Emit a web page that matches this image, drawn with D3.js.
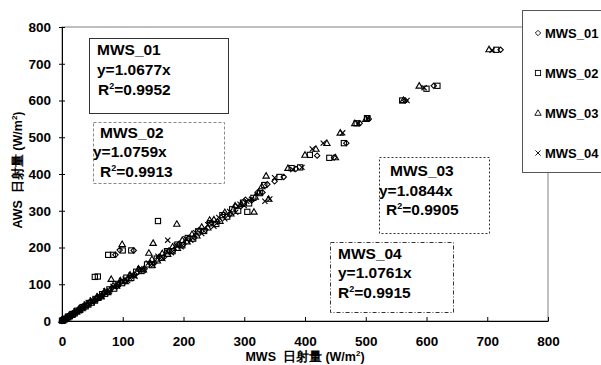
<!DOCTYPE html>
<html><head><meta charset="utf-8">
<script src="https://cdn.jsdelivr.net/npm/d3@7"></script>
<style>
body{margin:0;background:#fff;}
svg{display:block;font-family:"Liberation Sans",Arial,sans-serif;font-weight:bold;}
</style></head>
<body>
<svg id="chart" width="601" height="365"></svg>
<script>
const seriesNames = ["MWS_01","MWS_02","MWS_03","MWS_04"];
const xTicks = [0,100,200,300,400,500,600,700,800];
const yTicks = [0,100,200,300,400,500,600,700,800];
const fitLabels = [
  ["MWS_01","y=1.0677x","0.9952"],
  ["MWS_02","y=1.0759x","0.9913"],
  ["MWS_03","y=1.0844x","0.9905"],
  ["MWS_04","y=1.0761x","0.9915"]
];
const mws01 = [[0,0],[1,2],[3,2],[5,7],[8,8],[11,14],[14,13],[18,21],[22,21],[26,30],[31,31],[35,40],[41,42],[46,52],[52,53],[58,64],[63,64],[69,76],[76,79],[82,90],[88,180],[95,193],[118,192],[90,94],[97,106],[104,108],[112,123],[120,126],[127,140],[136,142],[145,158],[152,158],[160,175],[168,174],[176,192],[184,193],[193,210],[200,209],[208,225],[218,228],[226,248],[236,248],[246,268],[256,270],[266,290],[276,290],[286,312],[294,312],[302,330],[312,328],[322,350],[330,350],[338,372],[350,380],[365,392],[385,414],[420,450],[448,445],[468,484],[490,538],[505,550],[565,600],[612,640],[722,738]];
const mws02 = [[0,1],[2,1],[4,5],[7,6],[10,12],[13,13],[17,19],[21,21],[25,28],[30,30],[34,38],[39,40],[44,49],[49,50],[54,120],[59,121],[55,60],[60,63],[66,73],[71,74],[76,180],[84,180],[78,86],[86,88],[92,101],[100,192],[114,192],[99,103],[106,118],[114,117],[122,134],[131,136],[140,154],[148,152],[158,272],[156,170],[164,172],[173,190],[182,190],[190,208],[198,206],[207,226],[216,224],[224,244],[234,245],[244,266],[254,264],[264,288],[272,284],[280,304],[290,300],[298,322],[305,297],[308,320],[315,335],[326,348],[333,370],[358,392],[378,416],[392,418],[408,452],[440,444],[464,484],[485,538],[502,552],[560,600],[600,632],[618,640],[715,738]];
const mws03 = [[0,2],[3,4],[6,8],[9,9],[12,15],[16,16],[20,24],[24,25],[28,33],[33,34],[37,43],[42,44],[47,54],[53,55],[58,66],[64,66],[70,80],[75,78],[81,114],[84,96],[99,209],[90,96],[96,110],[104,108],[110,116],[112,126],[118,124],[126,142],[134,140],[143,185],[150,212],[148,168],[157,164],[165,184],[174,182],[189,264],[182,202],[190,198],[198,220],[206,216],[214,236],[222,232],[230,256],[243,275],[240,254],[250,276],[260,272],[268,296],[278,292],[285,314],[295,318],[316,297],[318,338],[324,350],[329,366],[336,395],[340,332],[372,416],[400,452],[418,468],[436,484],[450,445],[458,512],[482,538],[500,549],[562,601],[588,640],[703,739]];
const mws04 = [[1,2],[2,3],[4,6],[6,6],[9,11],[12,12],[15,18],[19,19],[23,27],[28,28],[32,37],[36,37],[40,46],[45,47],[50,57],[55,57],[61,69],[66,68],[72,82],[78,80],[84,94],[91,95],[98,110],[104,114],[108,110],[114,126],[120,122],[128,142],[134,138],[142,158],[150,152],[158,176],[166,170],[174,220],[172,190],[180,186],[188,206],[196,202],[204,224],[212,220],[220,240],[230,238],[240,262],[250,258],[258,282],[268,278],[276,298],[286,296],[293,318],[300,314],[304,326],[312,331],[334,326],[342,332],[350,390],[380,412],[395,418],[412,468],[430,484],[462,512],[488,538],[504,552],[568,600],[596,635],[708,737]];
const allSeries = [mws01, mws02, mws03, mws04];

const svg = d3.select("#chart");
const L = 62, R = 548, T = 27, B = 321;
const x = d3.scaleLinear().domain([0,800]).range([L,R]);
const y = d3.scaleLinear().domain([0,800]).range([B,T]);

svg.append("rect").attr("x",L).attr("y",T).attr("width",R-L).attr("height",B-T)
  .attr("fill","none").attr("stroke","#808080").attr("stroke-width",1);

function marker(g, type){
  if(type===0){ g.append("path").attr("d","M0,-2.7L2.7,0L0,2.7L-2.7,0Z"); }
  else if(type===1){ g.append("rect").attr("x",-2.6).attr("y",-2.6).attr("width",5.2).attr("height",5.2); }
  else if(type===2){ g.append("path").attr("d","M0,-3.2L3.2,2.3L-3.2,2.3Z"); }
  else { g.append("path").attr("d","M-2.6,-2.6L2.6,2.6M-2.6,2.6L2.6,-2.6"); }
}
allSeries.forEach((data,i)=>{
  const g = svg.append("g").attr("fill","none").attr("stroke","#000").attr("stroke-width",1.1);
  data.forEach(d=>{
    const m = g.append("g").attr("transform",`translate(${x(d[0])},${y(d[1])})`);
    marker(m,i);
  });
});

const xAxis = d3.axisBottom(x).tickValues(xTicks).tickSizeInner(-4).tickSizeOuter(0).tickPadding(0).tickFormat(d3.format("d"));
const gx = svg.append("g").attr("transform",`translate(0,${B})`).call(xAxis);
gx.select(".domain").attr("stroke","#000");
gx.selectAll(".tick line").attr("stroke","#000");
gx.selectAll(".tick text").attr("y",25).attr("dy",0).attr("font-size",13.5).attr("font-weight","bold").attr("fill","#000").attr("font-family","Liberation Sans, Arial, sans-serif");

const yAxis = d3.axisLeft(y).tickValues(yTicks).tickSizeInner(3).tickSizeOuter(0).tickPadding(8).tickFormat(d3.format("d"));
const gy = svg.append("g").attr("transform",`translate(${L},0)`).call(yAxis);
gy.select(".domain").attr("stroke","#000");
gy.selectAll(".tick line").attr("stroke","#000").attr("x1",3).attr("x2",-3);
gy.selectAll(".tick text").attr("x",-11).attr("font-size",13.5).attr("font-weight","bold").attr("fill","#000").attr("font-family","Liberation Sans, Arial, sans-serif");

function titleText(sel, prefix){
  sel.append("tspan").text(prefix+"\u00a0\u00a0日射量 (W/m");
  sel.append("tspan").attr("font-size",8).attr("dy",-5).text("2");
  sel.append("tspan").attr("dy",5).text(")");
}
const xt = svg.append("text").attr("x",(L+R)/2).attr("y",361).attr("text-anchor","middle").attr("font-size",12.5);
titleText(xt,"MWS");
const yt = svg.append("text").attr("transform",`translate(22,${(T+B)/2 - 4}) rotate(-90)`).attr("text-anchor","middle").attr("font-size",12.5);
titleText(yt,"AWS");

const boxes = [
  {x0:89,y0:38,x1:228,y1:113,dash:null,stroke:"#333",tx:[97,97,98],ty:[55,75,95]},
  {x0:93,y0:122,x1:224,y1:183,dash:"3,2",stroke:"#888",tx:[100,93,100],ty:[138,157,177]},
  {x0:379,y0:157,x1:489,y1:233,dash:"2,2",stroke:"#333",tx:[390,379,386],ty:[176,196,215]},
  {x0:330,y0:242,x1:453,y1:312,dash:"4,2,1,2",stroke:"#333",tx:[338,338,338],ty:[259,278,298]}
];
boxes.forEach((b,i)=>{
  svg.append("rect").attr("x",b.x0+0.5).attr("y",b.y0+0.5).attr("width",b.x1-b.x0).attr("height",b.y1-b.y0)
    .attr("fill","#fff").attr("stroke",b.stroke).attr("stroke-width",1).attr("stroke-dasharray",b.dash);
  const lab = fitLabels[i];
  svg.append("text").attr("x",b.tx[0]).attr("y",b.ty[0]).attr("font-size",15.5).text(lab[0]);
  svg.append("text").attr("x",b.tx[1]).attr("y",b.ty[1]).attr("font-size",15.5).text(lab[1]);
  const r = svg.append("text").attr("x",b.tx[2]).attr("y",b.ty[2]).attr("font-size",15.5);
  r.append("tspan").text("R");
  r.append("tspan").attr("font-size",9).attr("dy",-6).text("2");
  r.append("tspan").attr("dy",6).text("=" + lab[2]);
});

const lg = svg.append("g");
lg.append("rect").attr("x",522.5).attr("y",10.5).attr("width",100).attr("height",162)
  .attr("fill","#fff").attr("stroke","#555").attr("stroke-width",1);
seriesNames.forEach((n,i)=>{
  const cy = 33 + i*40;
  const m = lg.append("g").attr("transform",`translate(538,${cy})`).attr("fill","none").attr("stroke","#000").attr("stroke-width",0.9);
  marker(m,i);
  lg.append("text").attr("x",545).attr("y",cy+5).attr("font-size",13).text(n);
});
</script>
</body></html>
